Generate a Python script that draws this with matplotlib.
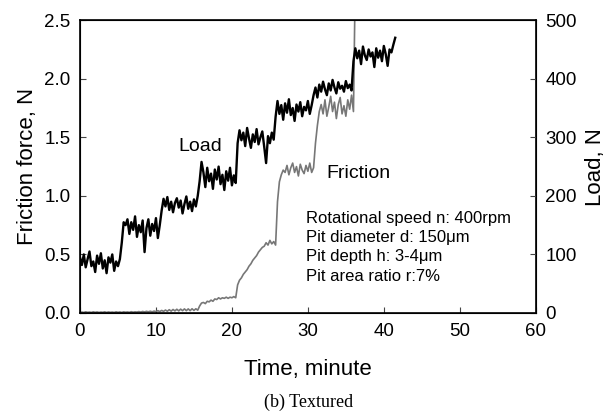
import matplotlib.pyplot as plt
import numpy as np

plt.rcParams['font.family'] = ['Liberation Sans', 'DejaVu Sans']

# sampled every 0.25 minute
dt = 0.25

# Load, N (right axis)
load = [95, 82, 100, 78, 92, 105, 80, 88, 70, 98, 84, 102, 76, 90, 68, 95, 86, 100, 72, 88, 80, 92,
        120, 155,
        150, 160, 135, 155, 142, 165, 130, 150, 138, 158, 104, 145, 160, 132, 152, 140, 162, 128, 150,
        175, 195, 182, 198, 176, 190, 172, 188, 196, 180, 192, 170, 186, 199, 178, 190, 174, 194, 182, 200,
        225, 258, 240, 215, 248, 225, 238, 212, 245, 228, 250, 220, 236, 210, 242, 226, 248, 218, 235, 222,
        290, 312, 295, 308, 285, 316, 298, 282, 305, 292, 314, 288, 300, 310, 284, 256, 302, 290, 308, 296,
        335, 362, 340, 355, 330, 358, 342, 365, 338, 350, 328, 356, 344, 360, 336, 352, 346, 362, 340, 355,
        372, 385, 368, 390, 378, 395, 382, 372, 392, 380, 398, 385, 375, 394, 383, 388, 378, 396, 384, 390, 380,
        430, 452, 435, 448, 425, 455, 440, 432, 450, 438, 445, 420, 452, 436, 448, 430, 456, 442, 422, 450,
        445, 458, 470]

# Friction force, N (left axis)
friction = [0.005, 0.008, 0.005, 0.01, 0.006, 0.008, 0.005, 0.01, 0.006, 0.009,
            0.005, 0.008, 0.006, 0.01, 0.005, 0.009, 0.006, 0.008, 0.005, 0.01,
            0.006, 0.009, 0.005, 0.01, 0.007, 0.009, 0.006, 0.011, 0.007, 0.01,
            0.008, 0.012, 0.008, 0.013, 0.009, 0.014, 0.01, 0.015, 0.01, 0.016,
            0.012, 0.02, 0.012, 0.022, 0.014, 0.025, 0.015, 0.028, 0.016, 0.03, 0.018, 0.032,
            0.018, 0.033, 0.02, 0.035, 0.02, 0.035, 0.02, 0.036, 0.022, 0.036, 0.024,
            0.06, 0.085, 0.09, 0.08, 0.1, 0.095, 0.11, 0.1, 0.12, 0.115, 0.13, 0.12, 0.13, 0.125,
            0.135, 0.125, 0.135, 0.13, 0.14, 0.13,
            0.24, 0.28, 0.3, 0.33, 0.35, 0.37, 0.4, 0.42, 0.45, 0.47, 0.49, 0.52, 0.54, 0.56,
            0.57, 0.6, 0.58, 0.62, 0.59, 0.61, 0.58,
            0.95, 1.12, 1.18, 1.22, 1.2, 1.26, 1.18, 1.24, 1.28, 1.2, 1.25, 1.17, 1.27, 1.22,
            1.19, 1.26, 1.21, 1.28, 1.2, 1.24,
            1.45, 1.6, 1.72, 1.78, 1.7, 1.82, 1.68, 1.76, 1.85, 1.72, 1.8, 1.66, 1.78, 1.84,
            1.7, 1.77, 1.68, 1.82, 1.74, 1.86, 1.72,
            2.9, 3.0]

t_load = np.arange(len(load)) * dt
t_fric = np.arange(len(friction)) * dt

conditions = ['Rotational speed n: 400rpm',
              'Pit diameter d: 150\u03bcm',
              'Pit depth h: 3-4\u03bcm',
              'Pit area ratio r:7%']

fig = plt.figure(figsize=(6.13, 4.18), dpi=100)
ax = fig.add_axes([0.1305, 0.2512, 0.7435, 0.7005])
ax2 = ax.twinx()

ax.plot(t_fric, friction, color='#777777', lw=1.2, zorder=2)
ax2.plot(t_load, load, color='black', lw=1.7, zorder=3)

ax.set_xlim(0, 60)
ax.set_ylim(0, 2.5)
ax2.set_ylim(0, 500)
ax.set_xticks(np.arange(0, 61, 10))
ax.set_yticks(np.arange(0, 2.51, 0.5))
ax.set_yticklabels(['%.1f' % v for v in np.arange(0, 2.51, 0.5)])
ax2.set_yticks(np.arange(0, 501, 100))

ax.tick_params(direction='in', length=4, labelsize=13.5, pad=7, color='#444444')
ax2.tick_params(direction='in', length=4, labelsize=13.5, pad=7, color='#444444')
for s in ax.spines.values():
    s.set_linewidth(1.2)

ax.set_xlabel('Time, minute', fontsize=16, labelpad=14)
ax.set_ylabel('Friction force, N', fontsize=16, labelpad=4)
ax2.set_ylabel('Load, N', fontsize=16, labelpad=6)

ax.text(12.9, 1.42, 'Load', fontsize=14, va='center')
ax.text(32.4, 1.19, 'Friction', fontsize=14, va='center')
for i, line in enumerate(conditions):
    ax.text(29.8, 0.81 - i * 0.165, line, fontsize=12, va='center')

fig.text(0.503, 0.038, '(b) Textured', family='Liberation Serif', fontsize=13,
         ha='center', va='center')

fig.savefig('out.png', dpi=100)
